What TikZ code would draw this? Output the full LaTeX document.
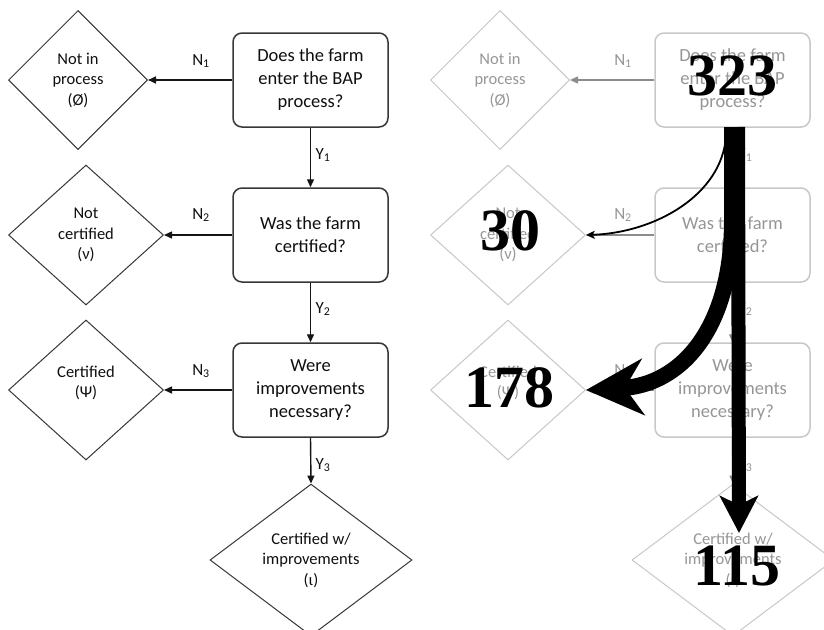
\documentclass[tikz,border=0pt]{standalone}
\usepackage{fontspec}
\setmainfont{Carlito}
\newfontfamily\numfont{Liberation Serif}
\usetikzlibrary{shapes.geometric,arrows.meta}
\definecolor{boxc}{RGB}{55,55,55}
\definecolor{txtc}{RGB}{15,15,15}
\definecolor{arrc}{RGB}{20,20,20}
\definecolor{lgline}{RGB}{200,200,200}
\definecolor{lgtext}{RGB}{150,150,150}
\definecolor{lgarr}{RGB}{140,140,140}
\tikzset{
  qbox/.style={rectangle, rounded corners=9pt, minimum width=155pt, minimum height=94pt,
    line width=1.5pt, align=center, font=\fontsize{18.5}{23}\selectfont, inner sep=0pt},
  outd/.style={diamond, line width=1pt, align=center, font=\fontsize{16.5}{20.5}\selectfont, inner sep=0pt},
  lbl/.style={font=\fontsize{17}{18}\selectfont, inner sep=0pt},
  flow/.style={line width=1.4pt, -{Triangle[length=8pt,width=7pt]}},
  bignum/.style={font=\numfont\bfseries\fontsize{60}{60}\selectfont, inner sep=0pt, text=black},
}
\newcommand\drawchart[3]{%
  \node[qbox,draw=#1,text=#2] (b1) at (310.5,80) {Does the farm\\enter the BAP\\process?};
  \node[qbox,draw=#1,text=#2] (b2) at (310.5,235) {Was the farm\\certified?};
  \node[qbox,draw=#1,text=#2] (b3) at (310.5,390) {Were\\improvements\\necessary?};
  \node[outd,draw=#1,text=#2,minimum width=139pt,minimum height=139pt] (d1) at (78,80) {Not in\\process\\(Ø)};
  \node[outd,draw=#1,text=#2,minimum width=155pt,minimum height=140pt] (d2) at (86,235) {Not\\certified\\(ν)};
  \node[outd,draw=#1,text=#2,minimum width=155pt,minimum height=140pt] (d3) at (86,390) {Certified\\(Ψ)\\[-4pt]};
  \node[outd,draw=#1,text=#2,minimum width=202pt,minimum height=136pt] (d4) at (311,560) {Certified w/\\improvements\\(ι)};
  \draw[flow,draw=#3] (b1.west) -- (d1.east);
  \draw[flow,draw=#3] (b2.west) -- (d2.east);
  \draw[flow,draw=#3] (b3.west) -- (d3.east);
  \draw[flow,draw=#3] (b1.south) -- (b2.north);
  \draw[flow,draw=#3] (b2.south) -- (b3.north);
  \draw[flow,draw=#3] (b3.south) -- (d4.north);
  \node[lbl,text=#2] (n1) at (201,61) {N\textsubscript{1}};
  \node[lbl,text=#2] (n2) at (201,215) {N\textsubscript{2}};
  \node[lbl,text=#2] (n3) at (201,371) {N\textsubscript{3}};
  \node[lbl,text=#2] (y1) at (323,155) {Y\textsubscript{1}};
  \node[lbl,text=#2] (y2) at (323,309) {Y\textsubscript{2}};
  \node[lbl,text=#2] (y3) at (323,465) {Y\textsubscript{3}};
}
\begin{document}
\begin{tikzpicture}[x=1pt,y=-1pt]
\useasboundingbox (0,0) rectangle (824,629);
\fill[white] (0,0) rectangle (824,629);
\drawchart{boxc}{txtc}{arrc}
\begin{scope}[xshift=422pt, name prefix=r-]
\drawchart{lgline}{lgtext}{lgarr}
\end{scope}
% flow overlays
\coordinate (s115) at (738,127);
\coordinate (e115) at (739,533);
\coordinate (s178) at (732,127);
\coordinate (s30) at (726,136);
\draw[line width=14pt, -{Stealth[length=37pt 0 0,width=38pt 0 0,inset=9pt 0]}] (s115) -- (e115);
\draw[line width=16pt, -{Stealth[length=57pt 0 0,width=56pt 0 0,inset=18pt 0]}]
  (s178) -- (732,220) .. controls (732,330) and (680,385) .. (r-d3.east);
\draw[line width=1.8pt, -{Stealth[length=9pt 0 0,width=8pt 0 0]}]
  (s30) .. controls (722,195) and (655,233) .. (r-d2.east);
\node[bignum] (v323) at (732,76) {323};
\node[bignum] (v30) at (510,231) {30};
\node[bignum] (v178) at (509,388) {178};
\node[bignum] (v115) at (737,566) {115};
\end{tikzpicture}
\end{document}
